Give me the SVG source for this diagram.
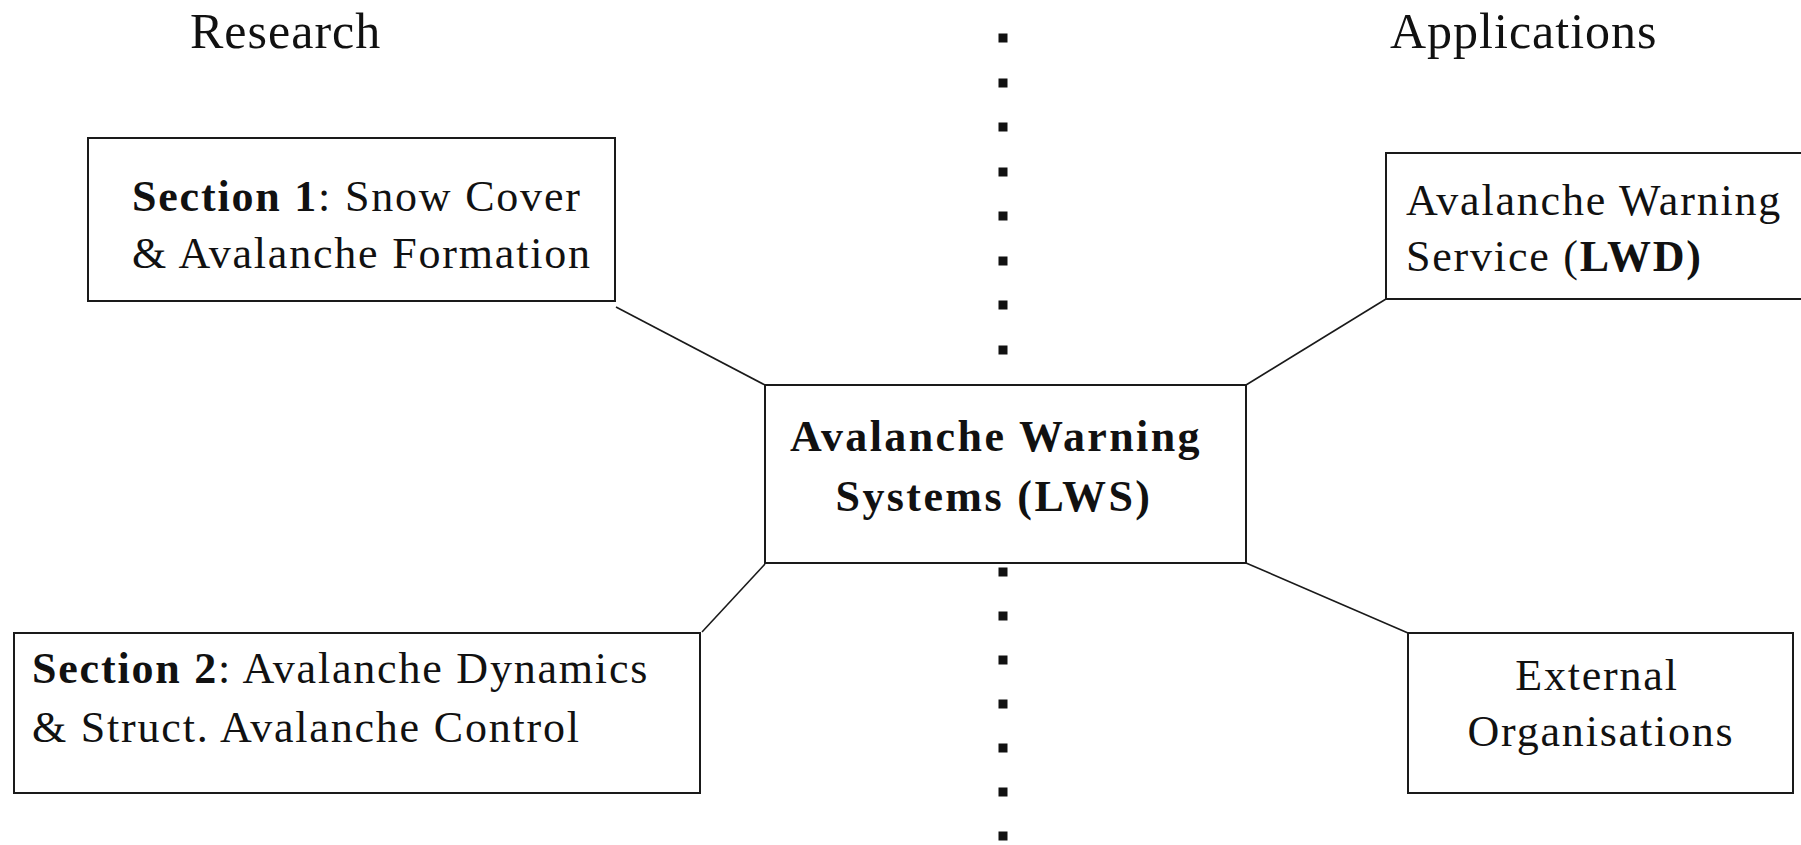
<svg xmlns="http://www.w3.org/2000/svg" width="1801" height="845" viewBox="0 0 1801 845">
<style>
.bg{fill:#ffffff}
.box{fill:#ffffff;stroke:#1a1a1a;stroke-width:2}
.conn{stroke:#1a1a1a;stroke-width:1.6;fill:none}
.t{font-family:"Liberation Serif","Times New Roman",serif;font-size:44px;fill:#111;letter-spacing:1.8px}
.title{font-family:"Liberation Serif","Times New Roman",serif;font-size:50px;fill:#111;letter-spacing:1px}
.b{font-weight:bold}
.dot{fill:#111}
</style>
<defs>
<rect id="sq" class="dot" x="-4.5" y="-4.5" width="9" height="9"/>
</defs>
<rect class="bg" x="0" y="0" width="1801" height="845"/>

<g id="titles">
<text class="title" x="190" y="48">Research</text>
<text class="title" x="1390" y="48">Applications</text>
</g>

<g id="divider">
<use href="#sq" x="1003" y="38"/>
<use href="#sq" x="1003" y="83"/>
<use href="#sq" x="1003" y="127"/>
<use href="#sq" x="1003" y="172"/>
<use href="#sq" x="1003" y="216"/>
<use href="#sq" x="1003" y="261"/>
<use href="#sq" x="1003" y="305"/>
<use href="#sq" x="1003" y="350"/>
<use href="#sq" x="1003" y="572"/>
<use href="#sq" x="1003" y="616"/>
<use href="#sq" x="1003" y="660"/>
<use href="#sq" x="1003" y="704"/>
<use href="#sq" x="1003" y="748"/>
<use href="#sq" x="1003" y="792"/>
<use href="#sq" x="1003" y="836"/>
</g>

<g id="connectors">
<line class="conn" x1="616" y1="307" x2="765" y2="385"/>
<line class="conn" x1="702" y1="632" x2="765" y2="564"/>
<line class="conn" x1="1246" y1="385" x2="1386" y2="299"/>
<line class="conn" x1="1246" y1="563" x2="1408" y2="633"/>
</g>

<g id="node-section1">
<rect class="box" x="88" y="138" width="527" height="163"/>
<text class="t" x="132" y="211"><tspan class="b">Section 1</tspan>: Snow Cover</text>
<text class="t" x="132" y="268">&amp; Avalanche Formation</text>
</g>

<g id="node-section2">
<rect class="box" x="14" y="633" width="686" height="160"/>
<text class="t" x="32" y="683"><tspan class="b">Section 2</tspan>: Avalanche Dynamics</text>
<text class="t" x="32" y="742">&amp; Struct. Avalanche Control</text>
</g>

<g id="node-lws">
<rect class="box" x="765" y="385" width="481" height="178"/>
<text class="t b" x="996" y="451" text-anchor="middle" style="letter-spacing:2.4px">Avalanche Warning</text>
<text class="t b" x="994" y="511" text-anchor="middle" style="letter-spacing:2.4px">Systems (LWS)</text>
</g>

<g id="node-lwd">
<rect class="box" x="1386" y="153" width="430" height="146"/>
<text class="t" x="1406" y="215">Avalanche Warning</text>
<text class="t" x="1406" y="271">Service (<tspan class="b">LWD)</tspan></text>
</g>

<g id="node-external">
<rect class="box" x="1408" y="633" width="385" height="160"/>
<text class="t" x="1597" y="690" text-anchor="middle">External</text>
<text class="t" x="1601" y="746" text-anchor="middle">Organisations</text>
</g>
</svg>
